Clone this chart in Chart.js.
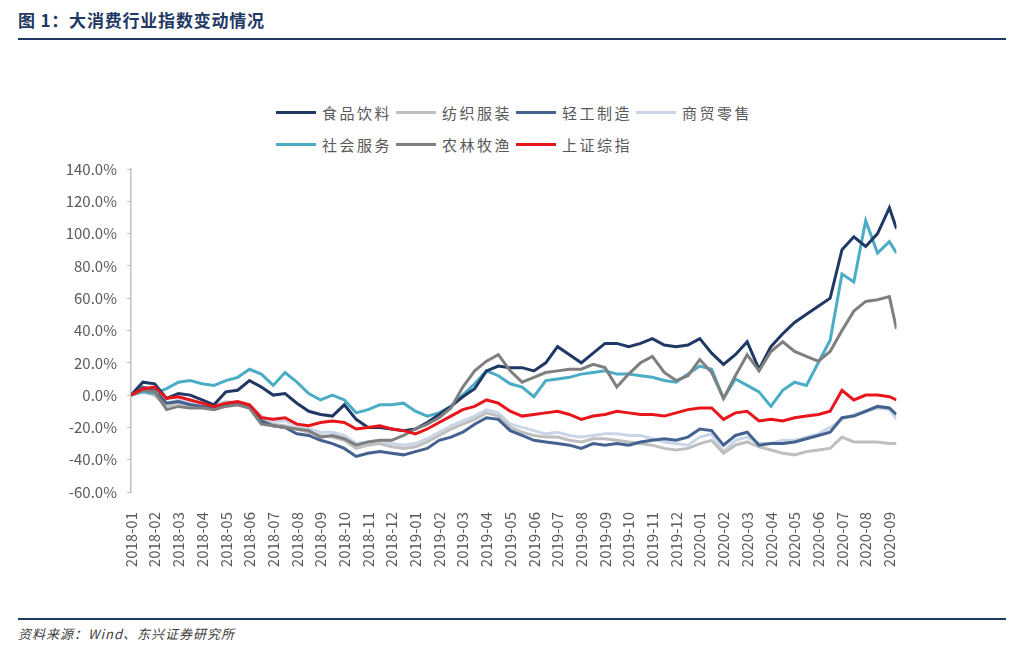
<!DOCTYPE html>
<html>
<head>
  <meta charset="UTF-8">
  <title>大消费行业指数变动情况</title>
  <script src="https://cdn.jsdelivr.net/npm/chart.js"></script>
  <style>
    body { margin: 0; background: #fff; font-family: "Noto Sans CJK SC", sans-serif; }
    #page { position: relative; width: 1023px; height: 645px; overflow: hidden; }
    .title { position: absolute; left: 18px; top: 7px; font-size: 17px; font-weight: bold; color: #1f3864; letter-spacing: 0.8px; }
    .rule { position: absolute; left: 18px; width: 988px; height: 2px; background: #1f3864; }
    .source { position: absolute; left: 18px; top: 624px; font-size: 13px; font-style: italic; color: #404040; letter-spacing: 1px; }
    #legend { position: absolute; left: 276px; top: 96px; width: 500px; }
    .row { display: flex; height: 32px; align-items: center; }
    .item { display: flex; align-items: center; width: 120px; }
    .swatch { width: 40px; height: 3px; margin-right: 6px; }
    .name { font-size: 15px; letter-spacing: 2.5px; color: #595959; white-space: nowrap; }
    #chartBox { position: absolute; left: 0; top: 150px; }
  </style>
</head>
<body>
<div id="page">
  <div class="title">图 1：大消费行业指数变动情况</div>
  <div class="rule" style="top:38px"></div>
  <div id="legend"></div>
  <div id="chartBox"><canvas id="grafik" width="1023" height="430"></canvas></div>
  <div class="rule" style="top:618px"></div>
  <div class="source">资料来源：Wind、东兴证券研究所</div>
</div>

<script>
  // month labels on the x axis
  const bulan = ['2018-01','2018-02','2018-03','2018-04','2018-05','2018-06','2018-07','2018-08','2018-09','2018-10','2018-11','2018-12',
    '2019-01','2019-02','2019-03','2019-04','2019-05','2019-06','2019-07','2019-08','2019-09','2019-10','2019-11','2019-12',
    '2020-01','2020-02','2020-03','2020-04','2020-05','2020-06','2020-07','2020-08','2020-09'];

  // sample positions, in months since 2018-01
  const waktu = [0,0.5,1,1.5,2,2.5,3,3.5,4,4.5,5,5.5,6,6.5,7,7.5,8,8.5,9,9.5,10,10.5,11,11.5,12,12.5,13,13.5,14,14.5,15,15.5,
    16,16.5,17,17.5,18,18.5,19,19.5,20,20.5,21,21.5,22,22.5,23,23.5,24,24.5,25,25.5,26,26.5,27,27.5,28,28.5,29,29.5,30,30.5,31,31.5,32,32.3];

  // series values (%)
  const shipin = [0,8,7,-2,1,0,-3,-6,2,3,9,5,0,1,-5,-10,-12,-13,-6,-15,-20,-20,-21,-22,-21,-17,-12,-7,-1,4,15,18,
    17,17,15,20,30,25,20,26,32,32,30,32,35,31,30,31,35,26,19,25,33,16,30,38,45,50,55,60,90,98,92,100,116,103];
  const fangzhi = [0,2,0,-7,-5,-6,-7,-8,-6,-6,-8,-15,-18,-19,-21,-23,-25,-26,-28,-33,-31,-30,-32,-33,-32,-29,-25,-21,-18,-15,-11,-13,
    -20,-23,-25,-26,-26,-28,-29,-27,-27,-28,-29,-30,-31,-33,-34,-33,-30,-28,-36,-31,-29,-32,-34,-36,-37,-35,-34,-33,-26,-29,-29,-29,-30,-30];
  const qinggong = [0,5,3,-5,-4,-6,-7,-8,-6,-5,-7,-16,-19,-20,-24,-25,-28,-30,-33,-38,-36,-35,-36,-37,-35,-33,-28,-26,-23,-18,-14,-15,
    -22,-25,-28,-29,-30,-31,-33,-30,-31,-30,-31,-29,-28,-27,-28,-26,-21,-22,-31,-25,-23,-31,-30,-30,-29,-27,-25,-23,-14,-13,-10,-7,-8,-12];
  const shangmao = [0,3,2,-5,-3,-5,-6,-6,-4,-5,-6,-13,-16,-16,-19,-21,-23,-23,-25,-30,-29,-28,-30,-31,-30,-27,-23,-19,-16,-13,-9,-11,
    -18,-20,-22,-24,-23,-25,-26,-25,-24,-24,-25,-25,-27,-29,-30,-31,-26,-24,-35,-28,-26,-30,-30,-28,-28,-26,-24,-20,-15,-12,-10,-8,-9,-15];
  const shehui = [0,2,1,4,8,9,7,6,9,11,16,13,6,14,8,1,-3,0,-3,-11,-9,-6,-6,-5,-10,-13,-11,-7,0,7,15,12,
    7,5,-1,9,10,11,13,14,15,13,13,12,11,9,8,13,18,16,-2,10,6,2,-7,3,8,6,20,34,75,70,108,88,95,88];
  const nonglin = [0,3,2,-9,-7,-8,-8,-9,-7,-6,-8,-18,-19,-20,-21,-22,-26,-25,-27,-31,-29,-28,-28,-25,-21,-18,-14,-8,5,15,21,25,
    15,8,11,14,15,16,16,19,17,5,13,20,24,14,9,12,22,14,-2,12,25,15,27,33,27,24,21,27,40,52,58,59,61,41];
  const shangzheng = [0,4,5,-2,-1,-3,-5,-7,-5,-4,-6,-14,-15,-14,-18,-19,-17,-16,-17,-21,-20,-19,-21,-22,-24,-21,-17,-13,-9,-7,-3,-5,
    -10,-13,-12,-11,-10,-12,-15,-13,-12,-10,-11,-12,-12,-13,-11,-9,-8,-8,-15,-11,-10,-16,-15,-16,-14,-13,-12,-10,3,-3,0,0,-1,-3];

  const seri = [
    { nama: '食品饮料', nilai: shipin, warna: '#1f3864', urut: 2 },
    { nama: '纺织服装', nilai: fangzhi, warna: '#bfbfbf', urut: 5 },
    { nama: '轻工制造', nilai: qinggong, warna: '#44628f', urut: 4 },
    { nama: '商贸零售', nilai: shangmao, warna: '#c9d6e8', urut: 6 },
    { nama: '社会服务', nilai: shehui, warna: '#4bacc6', urut: 3 },
    { nama: '农林牧渔', nilai: nonglin, warna: '#7f7f7f', urut: 1 },
    { nama: '上证综指', nilai: shangzheng, warna: '#e8151b', urut: 0 }
  ];

  // legend (two rows: 4 + 3)
  const legend = document.getElementById('legend');
  [seri.slice(0, 4), seri.slice(4)].forEach(baris => {
    const row = document.createElement('div');
    row.className = 'row';
    baris.forEach(s => {
      const item = document.createElement('div');
      item.className = 'item';
      item.innerHTML = '<span class="swatch" style="background:' + s.warna + '"></span><span class="name">' + s.nama + '</span>';
      row.appendChild(item);
    });
    legend.appendChild(row);
  });

  const ctx = document.getElementById('grafik').getContext('2d');
  const chart = new Chart(ctx, {
    type: 'line',
    data: {
      datasets: seri.map(s => ({
        label: s.nama,
        data: s.nilai.map((v, i) => ({ x: waktu[i], y: v })),
        borderColor: s.warna,
        backgroundColor: s.warna,
        borderWidth: 3,
        pointRadius: 0,
        tension: 0,
        order: s.urut
      }))
    },
    options: {
      responsive: false,
      animation: false,
      layout: { padding: { left: 0, right: 126.5, top: 17, bottom: 8 } },
      plugins: { legend: { display: false }, tooltip: { enabled: false } },
      scales: {
        x: {
          type: 'linear',
          min: 0,
          max: 32.3,
          grid: { display: false },
          border: { display: false },
          afterBuildTicks: axis => { axis.ticks = bulan.map((_, i) => ({ value: i })); },
          afterFit: scale => { scale.height = 80; },
          ticks: {
            autoSkip: false,
            minRotation: 90,
            maxRotation: 90,
            padding: 12,
            color: '#595959',
            font: { family: '"Noto Sans CJK SC", sans-serif', size: 15 },
            callback: v => bulan[v]
          }
        },
        y: {
          min: -60,
          max: 140,
          grid: { display: true, drawOnChartArea: false, drawTicks: true, tickLength: 4, color: '#bfbfbf' },
          border: { display: true, color: '#bfbfbf', width: 1.5 },
          afterFit: scale => { scale.width = 131; },
          ticks: {
            stepSize: 20,
            padding: 10,
            color: '#595959',
            font: { family: '"Noto Sans CJK SC", sans-serif', size: 15 },
            callback: v => v.toFixed(1) + '%'
          }
        }
      }
    }
  });
</script>
</body>
</html>
